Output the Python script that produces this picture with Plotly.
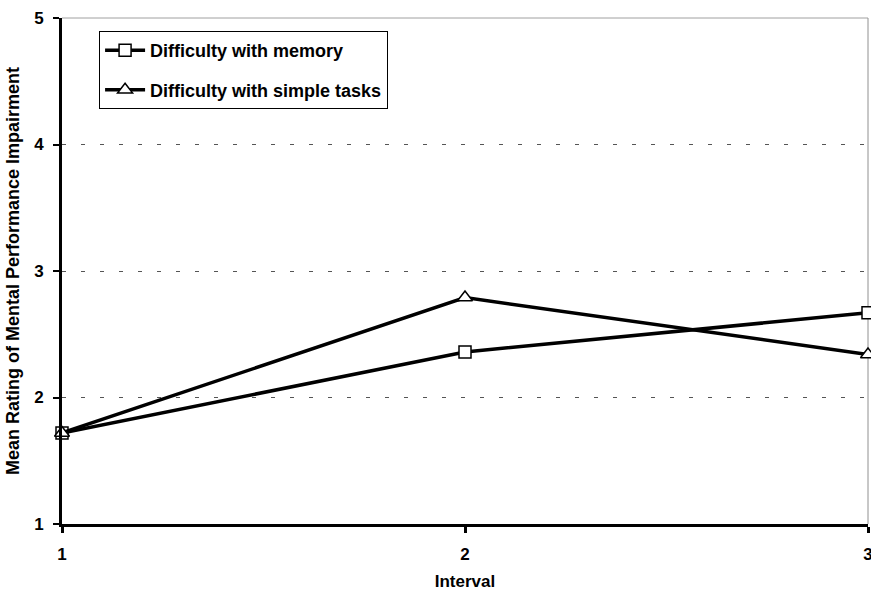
import plotly.graph_objects as go

intervals = [1, 2, 3]
memory = [1.72, 2.36, 2.67]
simple_tasks = [1.72, 2.79, 2.34]
y_ticks = [1, 2, 3, 4, 5]

font_family = "Liberation Sans, Arial, sans-serif"

fig = go.Figure()
fig.add_trace(go.Scatter(
    x=intervals, y=memory, mode="lines+markers", name="Difficulty with memory",
    legendgroup="a",
    line=dict(color="black", width=3.5),
    marker=dict(symbol="square", size=12, color="white", line=dict(color="black", width=1.5)),
    cliponaxis=False,
))
fig.add_trace(go.Scatter(
    x=intervals, y=simple_tasks, mode="lines+markers", name="Difficulty with simple tasks",
    legendgroup="b",
    line=dict(color="black", width=3.5),
    marker=dict(symbol="triangle-up", size=13, color="white", line=dict(color="black", width=1.5)),
    cliponaxis=False,
))

# light gray frame on top and right
fig.add_shape(type="line", xref="paper", yref="paper", x0=0, x1=1, y0=1, y1=1,
              line=dict(color="#a0a0a0", width=1), layer="below")
fig.add_shape(type="line", xref="paper", yref="paper", x0=1, x1=1, y0=0, y1=1,
              line=dict(color="#909090", width=1), layer="below")

fig.update_layout(
    width=871, height=591,
    margin=dict(l=62, r=3, t=18, b=67),
    paper_bgcolor="white", plot_bgcolor="white",
    font=dict(family=font_family, size=17, color="black", weight="bold"),
    showlegend=True,
    legend=dict(
        x=0.046, y=0.974, xanchor="left", yanchor="top",
        bordercolor="black", borderwidth=1, bgcolor="white",
        font=dict(family=font_family, size=18, color="black", weight="bold"),
        tracegroupgap=13, itemwidth=40,
    ),
    xaxis=dict(
        range=[1, 3], tickvals=intervals, ticktext=[str(v) for v in intervals],
        showgrid=False, zeroline=False, automargin=False,
        showline=True, linecolor="black", linewidth=3,
        ticks="outside", ticklen=6, tickwidth=3, tickcolor="black",
        tickfont=dict(size=17, weight="bold"),
        ticklabelstandoff=7, ticklabeloverflow="allow",
        title=dict(text="Interval", font=dict(size=17, weight="bold"), standoff=14),
    ),
    yaxis=dict(
        range=[1, 5], tickvals=y_ticks, ticktext=[str(v) for v in y_ticks],
        showgrid=True, gridcolor="#555555", griddash="4px,15px", gridwidth=1,
        zeroline=False, automargin=False,
        showline=True, linecolor="black", linewidth=3,
        ticks="outside", ticklen=6, tickwidth=2, tickcolor="black",
        tickfont=dict(size=17, weight="bold"),
        ticklabelstandoff=6,
        title=dict(text="Mean Rating of Mental Performance Impairment",
                   font=dict(size=18, weight="bold"), standoff=10),
    ),
)

fig.write_html("out.html")
